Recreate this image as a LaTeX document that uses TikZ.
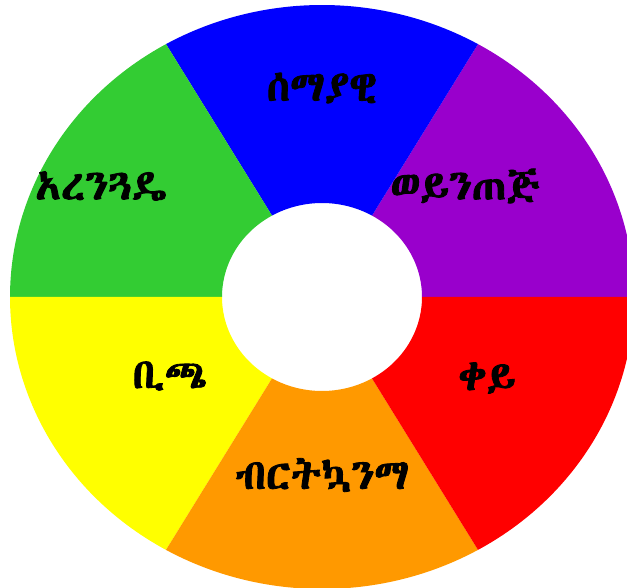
\documentclass[tikz,border=0pt]{standalone}
\usepackage{fontspec}
\usetikzlibrary{calc}
\newfontfamily\ethfont{Abyssinica SIL}[FakeBold=2]
\definecolor{cblue}{HTML}{0000FF}
\definecolor{cpurple}{HTML}{9900CC}
\definecolor{cred}{HTML}{FF0000}
\definecolor{corange}{HTML}{FF9900}
\definecolor{cyellow}{HTML}{FFFF00}
\definecolor{cgreen}{HTML}{33CC33}
\newcommand\ringseg[3]{\fill[#3] ($(c)+(#1:312 and 292)$) arc[start angle=#1, end angle=#2, x radius=312, y radius=292] -- ($(c)+(#2:100 and 94)$) arc[start angle=#2, end angle=#1, x radius=100, y radius=94] -- cycle;}
\begin{document}
\begin{tikzpicture}[x=1pt,y=1pt,
  lbl/.style={font=\ethfont\fontsize{42}{48}\selectfont, text=black, inner sep=0pt}]
\useasboundingbox (0,0) rectangle (627,587);
\clip (0,0) rectangle (627,587);
\coordinate (c) at (322,290);
\ringseg{0}{60}{cpurple}
\ringseg{60}{120}{cblue}
\ringseg{120}{180}{cgreen}
\ringseg{180}{240}{cyellow}
\ringseg{240}{300}{corange}
\ringseg{300}{360}{cred}
\node[lbl] (blue) at (322,499) {ሰማያዊ};
\node[lbl] (purple) at (465,401) {ወይንጠጅ};
\node[lbl] (green) at (101,401) {አረንጓዴ};
\node[lbl] (yellow) at (170,211) {ቢጫ};
\node[lbl] (red) at (487,209) {ቀይ};
\node[lbl] (orange) at (322,112) {ብርትኳንማ};
\end{tikzpicture}
\end{document}
